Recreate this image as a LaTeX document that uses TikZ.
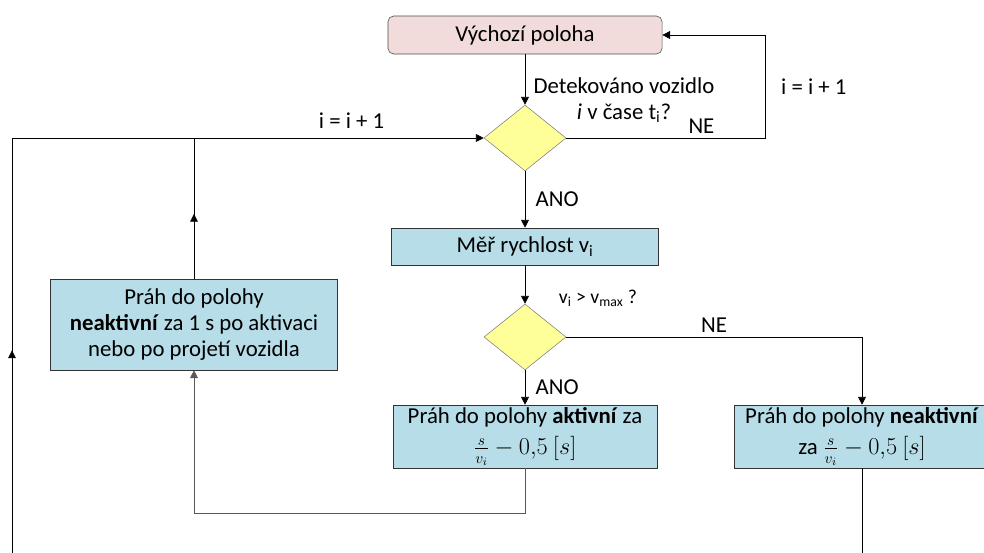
\documentclass[tikz,border=0pt]{standalone}
\usepackage{amsmath}
\usepackage{fontspec}
\setmainfont{Carlito}
\usetikzlibrary{shapes.geometric,arrows.meta,decorations.markings}
\definecolor{startpink}{RGB}{242,220,219}
\definecolor{boxblue}{RGB}{183,221,232}
\definecolor{condyellow}{RGB}{255,255,153}

\begin{document}
\begin{tikzpicture}[x=0.025cm,y=-0.025cm,
	  font=\fontsize{16.2}{18.5}\selectfont,
	  start/.style={draw=black!70,fill=startpink,rounded corners=4pt,minimum width=6.85cm,minimum height=0.95cm},
	  proc/.style={draw=black!80,fill=boxblue,align=center,inner sep=2pt},
	  cond/.style={diamond,draw=black!50,fill=condyellow,minimum width=2.05cm,minimum height=1.65cm,inner sep=0pt},
	  line/.style={draw,-{Triangle[length=5.5pt,width=5.5pt]}},
	  midarrow/.style={postaction={decorate},decoration={markings,mark=at position #1 with {\arrow{Triangle[length=5.5pt,width=5.5pt]}}}},
	  ]
	  \useasboundingbox (0,0) rectangle (984,552);
	  \clip (0,0) rectangle (984,552);
	  % boxes
	  \node[start] (start) at (525,35) {Výchozí poloha};
	  \node[cond] (detect) at (525,138) {};
	  \node[proc,minimum width=6.675cm,minimum height=0.925cm] (measure) at (525,246.5) {Měř rychlost v\textsubscript{i}};
	  \node[cond] (speed) at (525,337) {};
	  \node[proc,minimum width=6.6cm,minimum height=1.575cm,inner sep=1pt] (active) at (525,436.5) {Práh do polohy \textbf{aktivní} za\\[4pt] $\frac{s}{v_i}-0{,}5\ [s]$};
	  \node[proc,minimum width=6.375cm,minimum height=1.575cm,inner sep=1pt] (inactive) at (862,436.5) {Práh do polohy \textbf{neaktivní}\\[4pt] za $\frac{s}{v_i}-0{,}5\ [s]$};
	  \node[proc,minimum width=7.175cm,minimum height=2.275cm] (release) at (194,324.5) {Práh do polohy\\ \textbf{neaktivní} za 1 s po aktivaci\\ nebo po projetí vozidla};
	  % questions
	  \node[align=center] (detectq) at (624,100) {Detekováno vozidlo\\ \textit{i} v čase t\textsubscript{i}?};
	  \node[font=\fontsize{14}{16}\selectfont] (speedq) at (598,298) {v\textsubscript{i} > v\textsubscript{max} ?};
	  \coordinate (loopright) at (765,138);
	  \coordinate (outerleft) at (12,138);
	  \coordinate (outerbottom) at (12,590);
	  \coordinate (activebottom) at (525,513);
	  % connectors
	  \draw[line] (start) -- (detect);
	  \draw[line] (detect.east) -- node[pos=0.68,above]{NE} (loopright) |- node[pos=0.25,right=8pt]{i = i + 1} (start.east);
	  \draw[line] (detect) -- node[right=4pt]{ANO} (measure);
	  \draw[line] (measure) -- (speed);
	  \draw[line] (speed) -- node[right=4pt]{ANO} (active);
	  \draw[line] (speed.east) -| node[pos=0.25,above]{NE} (inactive.north);
	  \draw[line,draw=black!65] (active.south) -- (activebottom) -| (release.south);
	  \draw[midarrow=0.46] (release.north) -- (release.north |- outerleft);
	  \draw (inactive.south) |- (outerbottom);
	  \draw[midarrow=0.53] (outerbottom) -- (outerleft);
	  \draw[line] (outerleft) -- node[pos=0.72,above=3pt]{i = i + 1} (detect.west);
\end{tikzpicture}
\end{document}
